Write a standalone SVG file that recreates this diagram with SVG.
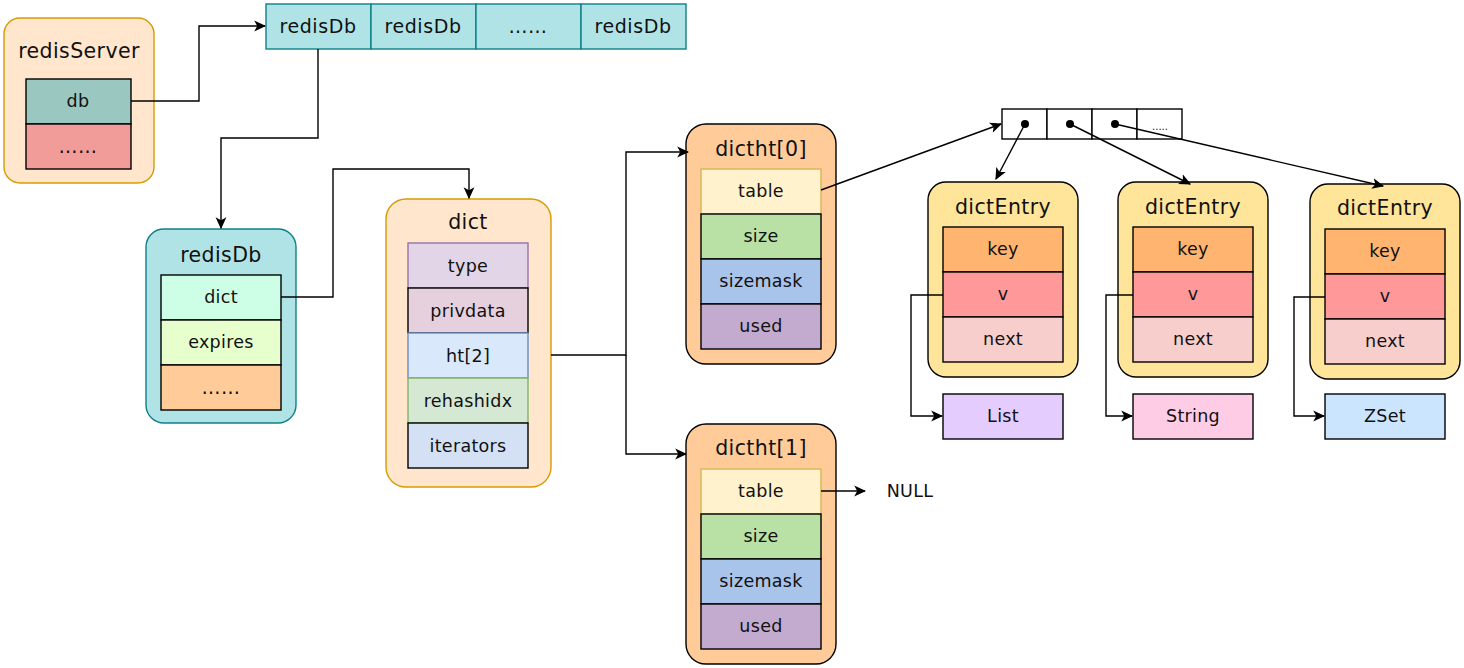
<svg xmlns="http://www.w3.org/2000/svg" width="1464" height="668" viewBox="0 0 1464 668">
<defs>
<marker id="arr" viewBox="0 0 10 10" refX="9" refY="5" markerWidth="12" markerHeight="12" markerUnits="userSpaceOnUse" orient="auto">
<path d="M0,0.5 L10,5 L0,9.5 L2.5,5 Z" fill="#000"/>
</marker>
<marker id="dot" viewBox="0 0 10 10" refX="5" refY="5" markerWidth="8" markerHeight="8" markerUnits="userSpaceOnUse">
<circle cx="5" cy="5" r="5" fill="#000"/>
</marker>
</defs>
<style>
text{font-family:"DejaVu Sans","Liberation Sans",sans-serif;fill:#111;text-anchor:middle;dominant-baseline:central}
.t{font-size:20.5px;letter-spacing:0.4px}
.c{font-size:17.5px;letter-spacing:0.3px}
.a{font-size:19px;letter-spacing:0.6px}
.ln{fill:none;stroke:#000;stroke-width:1.4}
.cell{stroke:#000;stroke-width:1.4}
.org{fill:#ffe6cc;stroke:#d79b00;stroke-width:1.4}
.teal{fill:#b0e3e6;stroke:#0e8088;stroke-width:1.4}
.ht{fill:#ffcc99;stroke:#000;stroke-width:1.4}
.de{fill:#ffe599;stroke:#000;stroke-width:1.4}
</style>
<rect width="1464" height="668" fill="#fff"/>

<g id="redisServer">
<rect class="org" x="4" y="18" width="150" height="165" rx="16"/>
<text class="t" x="79" y="51">redisServer</text>
<rect class="cell" x="26" y="79" width="105" height="45" fill="#9ac7bf"/>
<text class="c" x="78" y="101">db</text>
<rect class="cell" x="26" y="124" width="105" height="45" fill="#f19c99"/>
<text class="a" x="78" y="146">……</text>
</g>

<g id="dbArray">
<rect class="teal" x="266" y="4" width="105" height="45"/>
<text class="a" x="318" y="26">redisDb</text>
<rect class="teal" x="371" y="4" width="105" height="45"/>
<text class="a" x="423" y="26">redisDb</text>
<rect class="teal" x="476" y="4" width="105" height="45"/>
<text class="a" x="528" y="26">……</text>
<rect class="teal" x="581" y="4" width="105" height="45"/>
<text class="a" x="633" y="26">redisDb</text>
</g>

<g id="redisDb">
<rect class="teal" x="146" y="229" width="150" height="194" rx="18"/>
<text class="t" x="221" y="255">redisDb</text>
<rect class="cell" x="161" y="275" width="120" height="45" fill="#ccffe6"/>
<text class="c" x="221" y="297">dict</text>
<rect class="cell" x="161" y="320" width="120" height="45" fill="#e6ffcc"/>
<text class="c" x="221" y="342">expires</text>
<rect class="cell" x="161" y="365" width="120" height="45" fill="#ffcc99"/>
<text class="a" x="221" y="387">……</text>
</g>

<g id="dict">
<rect class="org" x="386" y="199" width="165" height="288" rx="20"/>
<text class="t" x="468" y="222">dict</text>
<rect x="408" y="243" width="120" height="45" fill="#e1d5e7" stroke="#9673a6" stroke-width="1.4"/>
<text class="c" x="468" y="266">type</text>
<rect class="cell" x="408" y="288" width="120" height="45" fill="#e6d0de"/>
<text class="c" x="468" y="311">privdata</text>
<rect x="408" y="333" width="120" height="45" fill="#dae8fc" stroke="#6c8ebf" stroke-width="1.4"/>
<text class="c" x="468" y="356">ht[2]</text>
<rect x="408" y="378" width="120" height="45" fill="#d5e8d4" stroke="#82b366" stroke-width="1.4"/>
<text class="c" x="468" y="401">rehashidx</text>
<rect class="cell" x="408" y="423" width="120" height="45" fill="#d4e1f5"/>
<text class="c" x="468" y="446">iterators</text>
</g>

<g id="dictht0">
<rect class="ht" x="686" y="124" width="150" height="240" rx="20"/>
<text class="t" x="761" y="149">dictht[0]</text>
<rect x="701" y="169" width="120" height="45" fill="#fff2cc" stroke="#d6b656" stroke-width="1.4"/>
<text class="c" x="761" y="191">table</text>
<rect class="cell" x="701" y="214" width="120" height="45" fill="#b9e0a5"/>
<text class="c" x="761" y="236">size</text>
<rect class="cell" x="701" y="259" width="120" height="45" fill="#a9c4eb"/>
<text class="c" x="761" y="281">sizemask</text>
<rect class="cell" x="701" y="304" width="120" height="45" fill="#c3abd0"/>
<text class="c" x="761" y="326">used</text>
</g>

<g id="dictht1">
<rect class="ht" x="686" y="424" width="150" height="240" rx="20"/>
<text class="t" x="761" y="448">dictht[1]</text>
<rect x="701" y="469" width="120" height="45" fill="#fff2cc" stroke="#d6b656" stroke-width="1.4"/>
<text class="c" x="761" y="491">table</text>
<rect class="cell" x="701" y="514" width="120" height="45" fill="#b9e0a5"/>
<text class="c" x="761" y="536">size</text>
<rect class="cell" x="701" y="559" width="120" height="45" fill="#a9c4eb"/>
<text class="c" x="761" y="581">sizemask</text>
<rect class="cell" x="701" y="604" width="120" height="45" fill="#c3abd0"/>
<text class="c" x="761" y="626">used</text>
</g>

<g id="null">
<text class="c" x="910" y="491">NULL</text>
</g>

<g id="tableArray">
<rect x="1002" y="109" width="45" height="30" fill="#fff" stroke="#000" stroke-width="1.4"/>
<rect x="1047" y="109" width="45" height="30" fill="#fff" stroke="#000" stroke-width="1.4"/>
<rect x="1092" y="109" width="45" height="30" fill="#fff" stroke="#000" stroke-width="1.4"/>
<rect x="1137" y="109" width="45" height="30" fill="#fff" stroke="#000" stroke-width="1.4"/>
<text x="1160" y="126" style="font-size:10px">.....</text>
</g>

<g id="dictEntry1">
<rect class="de" x="928" y="182" width="150" height="195" rx="18"/>
<text class="t" x="1003" y="207">dictEntry</text>
<rect class="cell" x="943" y="227" width="120" height="45" fill="#ffb570"/>
<text class="c" x="1003" y="249">key</text>
<rect class="cell" x="943" y="272" width="120" height="45" fill="#ff9999"/>
<text class="c" x="1003" y="294">v</text>
<rect class="cell" x="943" y="317" width="120" height="45" fill="#f8cecc"/>
<text class="c" x="1003" y="339">next</text>
</g>
<g id="dictEntry2">
<rect class="de" x="1118" y="182" width="150" height="195" rx="18"/>
<text class="t" x="1193" y="207">dictEntry</text>
<rect class="cell" x="1133" y="227" width="120" height="45" fill="#ffb570"/>
<text class="c" x="1193" y="249">key</text>
<rect class="cell" x="1133" y="272" width="120" height="45" fill="#ff9999"/>
<text class="c" x="1193" y="294">v</text>
<rect class="cell" x="1133" y="317" width="120" height="45" fill="#f8cecc"/>
<text class="c" x="1193" y="339">next</text>
</g>
<g id="dictEntry3">
<rect class="de" x="1310" y="184" width="150" height="195" rx="18"/>
<text class="t" x="1385" y="208">dictEntry</text>
<rect class="cell" x="1325" y="229" width="120" height="45" fill="#ffb570"/>
<text class="c" x="1385" y="251">key</text>
<rect class="cell" x="1325" y="274" width="120" height="45" fill="#ff9999"/>
<text class="c" x="1385" y="296">v</text>
<rect class="cell" x="1325" y="319" width="120" height="45" fill="#f8cecc"/>
<text class="c" x="1385" y="341">next</text>
</g>

<g id="List">
<rect class="cell" x="943" y="394" width="120" height="45" fill="#e5ccff"/>
<text class="c" x="1003" y="416">List</text>
</g>
<g id="String">
<rect class="cell" x="1133" y="394" width="120" height="45" fill="#ffcce6"/>
<text class="c" x="1193" y="416">String</text>
</g>
<g id="ZSet">
<rect class="cell" x="1325" y="394" width="120" height="45" fill="#cce5ff"/>
<text class="c" x="1385" y="416">ZSet</text>
</g>

<g id="connectors">
<path class="ln" d="M131,101 H199 V26 H265" marker-end="url(#arr)"/>
<path class="ln" d="M318,49 V138 H221 V228" marker-end="url(#arr)"/>
<path class="ln" d="M281,297 H333 V169 H469 V198" marker-end="url(#arr)"/>
<path class="ln" d="M551,355 H626 V152 H688" marker-end="url(#arr)"/>
<path class="ln" d="M626,355 V454 H686" marker-end="url(#arr)"/>
<path class="ln" d="M821,491 H865" marker-end="url(#arr)"/>
<path class="ln" d="M821,190 L1001,124" marker-end="url(#arr)"/>
<path class="ln" d="M1025,124 L996,179" marker-start="url(#dot)" marker-end="url(#arr)"/>
<path class="ln" d="M1070,124 L1190,184" marker-start="url(#dot)" marker-end="url(#arr)"/>
<path class="ln" d="M1115,124 L1383,186" marker-start="url(#dot)" marker-end="url(#arr)"/>
<path class="ln" d="M943,295 H911 V416 H942" marker-end="url(#arr)"/>
<path class="ln" d="M1133,295 H1106 V416 H1132" marker-end="url(#arr)"/>
<path class="ln" d="M1325,297 H1294 V416 H1324" marker-end="url(#arr)"/>
</g>
</svg>
